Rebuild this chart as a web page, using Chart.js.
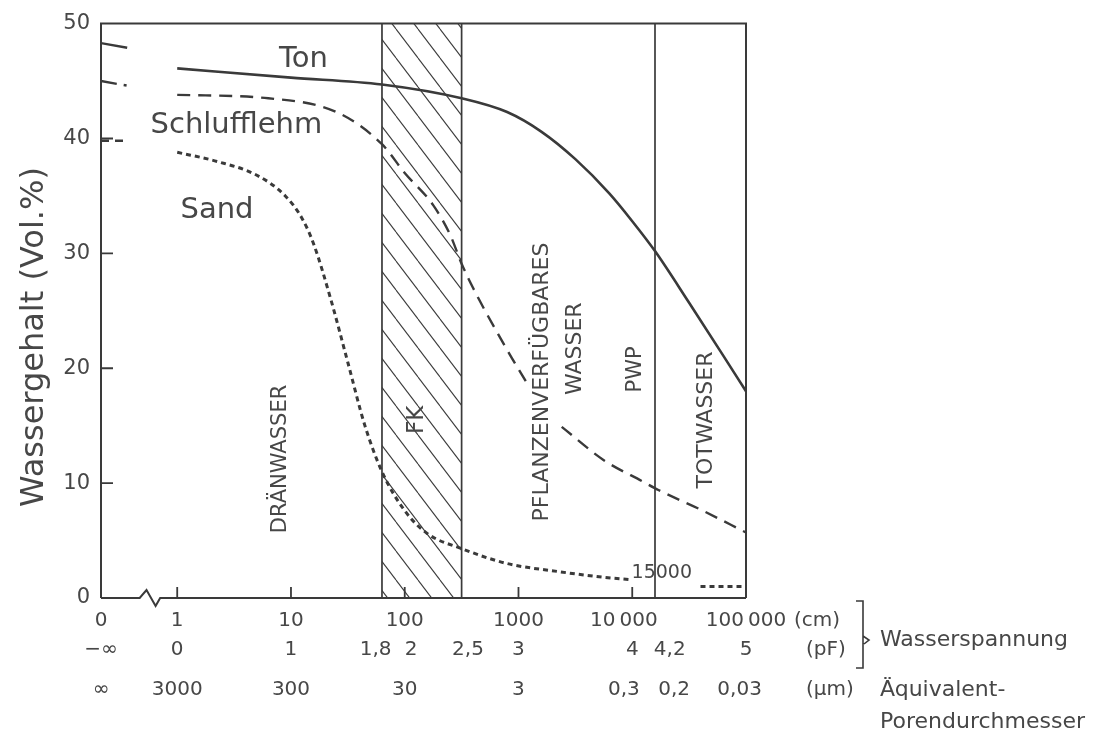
<!DOCTYPE html>
<html>
<head>
<meta charset="utf-8">
<title>Wassergehalt und Wasserspannung</title>
<script src="https://cdn.jsdelivr.net/npm/chart.js@4.4.1/dist/chart.umd.min.js"></script>
<style>
  html, body { margin: 0; padding: 0; background: #fff; }
  #wrap { position: relative; width: 1103px; height: 733px; }
</style>
</head>
<body>
<div id="wrap"><canvas id="pfChart"></canvas></div>
<script>
// --- Data: x = pF (log10 of suction in cm), y = Wassergehalt (Vol.%) ---
const tonPF   = [0, 1, 1.8, 2.5, 2.9, 3.2, 3.5, 3.8, 4.0, 4.2, 4.5, 4.8, 5.0];
const tonVal  = [46.1, 45.3, 44.7, 43.5, 42.3, 40.6, 38.2, 35.2, 32.8, 30.2, 25.7, 21.1, 18.0];

const schluffPF  = [0, 0.8, 1.4, 1.8, 2.0, 2.25, 2.4, 2.5, 2.6, 2.9, 3.08, 3.2, 3.38, 3.75, 4.1, 4.23, 4.6, 5.0];
const schluffVal = [43.8, 43.5, 42.3, 39.5, 37.0, 34.2, 31.6, 29.1, 27.0, 21.6, 18.6, null, 14.9, 12.0, 10.1, 9.4, 7.7, 5.7];

const sandPF  = [0, 0.35, 0.7, 0.95, 1.1, 1.2, 1.35, 1.5, 1.65, 1.8, 2.0, 2.2, 2.5, 2.9, 3.35, 3.75, 3.98, 4.3, 4.6, 5.0];
const sandVal = [38.8, 38.0, 36.8, 35.0, 33.0, 30.8, 26.0, 20.5, 15.0, 11.0, 7.6, 5.6, 4.3, 3.0, 2.3, 1.8, 1.6, null, 1.0, 1.0];

// short stubs at the left edge (saturation, pF = -inf)
const satPF      = [-0.67, -0.44];
const tonSat     = [48.3, 47.9];
const schluffSat = [45.0, 44.6];
const sandSat    = [39.8, 39.8];

// FK band and PWP line (pF)
const bandPF = [1.8, 2.5];
const pwpPF  = [4.2];

// axes
const xMin = -0.67, xMax = 5;
const yTicks = [0, 10, 20, 30, 40, 50];
const FS = '\u2007', TS = '\u2009'; // figure / thin space, used to nudge crowded labels
const cmPos = [xMin, 0, 1, 2, 3, 4, 5];
const cmLabels = ['0', '1', '10', '100', '1000', '10' + TS + '000' + FS + TS, '100' + TS + '000'];
const pfPos = [xMin, 0, 1, 1.8, 2, 2.5, 3, 4, 4.2, 5];
const pfLabels = ['\u2212\u221E', '0', '1', '1,8' + FS, FS + '2', FS + '2,5', '3', '4', FS + FS + TS + '4,2', '5'];
const umPos = [xMin, 0, 1, 2, 3, 4, 4.2, 5];
const umLabels = ['\u221E', '3000', '300', '30', '3', '0,3' + FS + TS, FS + FS + FS + '0,2', '0,03' + FS];
const innerTicksX = [0, 1, 2, 3, 4];
const innerTicksY = [10, 20, 30, 40];

const INK = '#3a3a3a';
const TXT = '#474747';
const FONT = "'DejaVu Sans', 'Liberation Sans', sans-serif";

// text annotations (in data coordinates)
const notes = [
    { t: 'Ton', x: 1.11, y: 46.9, size: 29 },
    { t: 'Schlufflehm', x: 0.52, y: 41.1, size: 29 },
    { t: 'Sand', x: 0.35, y: 33.7, size: 29 },
    { t: 'DRÄNWASSER', x: 0.91, y: 12.1, size: 21, rot: true },
    { t: 'FK', x: 2.11, y: 15.5, size: 23, rot: true },
    { t: 'PFLANZENVERFÜGBARES', x: 3.21, y: 18.8, size: 22, rot: true },
    { t: 'WASSER', x: 3.5, y: 21.7, size: 22, rot: true },
    { t: 'PWP', x: 4.03, y: 19.9, size: 21, rot: true },
    { t: 'TOTWASSER', x: 4.65, y: 15.5, size: 22, rot: true },
    { t: '15000', x: 4.26, y: 2.2, size: 19 }
];

function pts(xs, ys) {
    return xs.map((x, i) => ({ x: x, y: ys[i] }));
}

// hatch pattern for FK
function makeHatch() {
    const c = document.createElement('canvas');
    c.width = 22; c.height = 29;
    const g = c.getContext('2d');
    g.strokeStyle = INK;
    g.lineWidth = 1.1;
    [-22, 0, 22].forEach(ox => {
        g.beginPath();
        g.moveTo(ox, 0);
        g.lineTo(ox + 22, 29);
        g.stroke();
    });
    return g.createPattern(c, 'repeat');
}

Chart.defaults.font.family = FONT;
Chart.defaults.color = TXT;

const decor = {
    id: 'decor',
    afterDraw(chart) {
        const { ctx, chartArea: a, scales: { x, y } } = chart;
        ctx.save();
        ctx.strokeStyle = INK;
        ctx.lineWidth = 2;

        // frame: left, top, right
        ctx.beginPath();
        ctx.moveTo(a.left, a.bottom);
        ctx.lineTo(a.left, a.top);
        ctx.lineTo(a.right, a.top);
        ctx.lineTo(a.right, a.bottom);
        ctx.stroke();

        // bottom axis with break mark
        const yb = y.getPixelForValue(0);
        ctx.beginPath();
        ctx.moveTo(a.left, yb);
        ctx.lineTo(x.getPixelForValue(-0.33), yb);
        ctx.lineTo(x.getPixelForValue(-0.27), yb - 8);
        ctx.lineTo(x.getPixelForValue(-0.19), yb + 8);
        ctx.lineTo(x.getPixelForValue(-0.15), yb);
        ctx.lineTo(a.right, yb);
        ctx.stroke();

        // inward tick marks
        ctx.lineWidth = 1.8;
        ctx.beginPath();
        innerTicksX.forEach(v => {
            const px = x.getPixelForValue(v);
            ctx.moveTo(px, yb);
            ctx.lineTo(px, yb - 11);
        });
        innerTicksY.forEach(v => {
            const py = y.getPixelForValue(v);
            ctx.moveTo(a.left, py);
            ctx.lineTo(a.left + 12, py);
        });
        ctx.stroke();

        // annotations
        ctx.fillStyle = TXT;
        ctx.textAlign = 'center';
        ctx.textBaseline = 'middle';
        notes.forEach(n => {
            ctx.save();
            ctx.font = n.size + 'px ' + FONT;
            ctx.translate(x.getPixelForValue(n.x), y.getPixelForValue(n.y));
            if (n.rot) ctx.rotate(-Math.PI / 2);
            ctx.fillText(n.t, 0, 0);
            ctx.restore();
        });

        // y axis title
        ctx.save();
        ctx.font = '32px ' + FONT;
        ctx.translate(35, 337);
        ctx.rotate(-Math.PI / 2);
        ctx.fillText('Wassergehalt (Vol.%)', 0, 0);
        ctx.restore();

        // units and right-hand labels
        ctx.textAlign = 'left';
        ctx.font = '20px ' + FONT;
        ctx.fillText('(cm)', 794, 621);
        ctx.fillText('(pF)', 806, 650);
        ctx.fillText('(\u00B5m)', 806, 690);

        ctx.lineWidth = 1.6;
        ctx.beginPath();
        ctx.moveTo(856, 601);
        ctx.lineTo(863, 601);
        ctx.lineTo(863, 668);
        ctx.lineTo(856, 668);
        ctx.moveTo(863, 636);
        ctx.lineTo(869, 640);
        ctx.lineTo(864, 644);
        ctx.stroke();

        ctx.font = '22px ' + FONT;
        ctx.fillText('Wasserspannung', 880, 640);
        ctx.fillText('\u00C4quivalent-', 880, 690);
        ctx.fillText('Porendurchmesser', 880, 722);
        ctx.restore();
    }
};

const lineBase = { borderColor: INK, pointRadius: 0, fill: false, spanGaps: false };

function xAxis(pos, labels, pad, h, weight) {
    return {
        type: 'linear',
        position: 'bottom',
        weight: weight,
        min: xMin,
        max: xMax,
        grid: { display: false, drawTicks: false },
        border: { display: false },
        afterBuildTicks: s => { s.ticks = pos.map(v => ({ value: v })); },
        afterFit: s => { s.height = h; },
        ticks: {
            autoSkip: false,
            maxRotation: 0,
            padding: pad,
            color: TXT,
            font: { size: 20 },
            callback: (v, i) => labels[i]
        }
    };
}

new Chart(document.getElementById('pfChart'), {
    type: 'line',
    data: {
        datasets: [
            { ...lineBase, label: 'Ton', data: pts(tonPF, tonVal), borderWidth: 2.6, cubicInterpolationMode: 'monotone' },
            { ...lineBase, label: 'Schlufflehm', data: pts(schluffPF, schluffVal), borderWidth: 2.4, borderDash: [13, 8], cubicInterpolationMode: 'monotone' },
            { ...lineBase, label: 'Sand', data: pts(sandPF, sandVal), borderWidth: 3, borderDash: [5, 4], cubicInterpolationMode: 'monotone' },
            { ...lineBase, label: 'Ton (ges.)', data: pts(satPF, tonSat), borderWidth: 2.4 },
            { ...lineBase, label: 'Schlufflehm (ges.)', data: pts(satPF, schluffSat), borderWidth: 2.4, borderDash: [16, 7, 3, 40] },
            { ...lineBase, label: 'Sand (ges.)', data: pts(satPF, sandSat), borderWidth: 2.6, borderDash: [8, 6] },
            { ...lineBase, label: 'FK links', data: [{ x: bandPF[0], y: 0 }, { x: bandPF[0], y: 50 }], borderWidth: 1.7 },
            { ...lineBase, label: 'FK rechts', data: [{ x: bandPF[1], y: 0 }, { x: bandPF[1], y: 50 }], borderWidth: 1.7 },
            { ...lineBase, label: 'PWP', data: [{ x: pwpPF[0], y: 0 }, { x: pwpPF[0], y: 50 }], borderWidth: 1.7 },
            { ...lineBase, label: 'FK', data: bandPF.map(v => ({ x: v, y: 50 })), fill: 'origin', backgroundColor: makeHatch(), borderWidth: 0 }
        ]
    },
    options: {
        responsive: true,
        maintainAspectRatio: false,
        animation: false,
        layout: { padding: { top: 21, right: 357, bottom: 30, left: 0 } },
        plugins: { legend: { display: false }, tooltip: { enabled: false } },
        scales: {
            x: xAxis(cmPos, cmLabels, 11, 30, 0),
            xPF: xAxis(pfPos, pfLabels, 10, 30, 1),
            xUM: xAxis(umPos, umLabels, 20, 45, 2),
            y: {
                type: 'linear',
                min: 0,
                max: 50,
                grid: { display: false, drawTicks: false },
                border: { display: false },
                afterBuildTicks: s => { s.ticks = yTicks.map(v => ({ value: v })); },
                afterFit: s => { s.width = 101; },
                ticks: { padding: 11, color: TXT, font: { size: 21 } }
            }
        }
    },
    plugins: [decor]
});
</script>
</body>
</html>
